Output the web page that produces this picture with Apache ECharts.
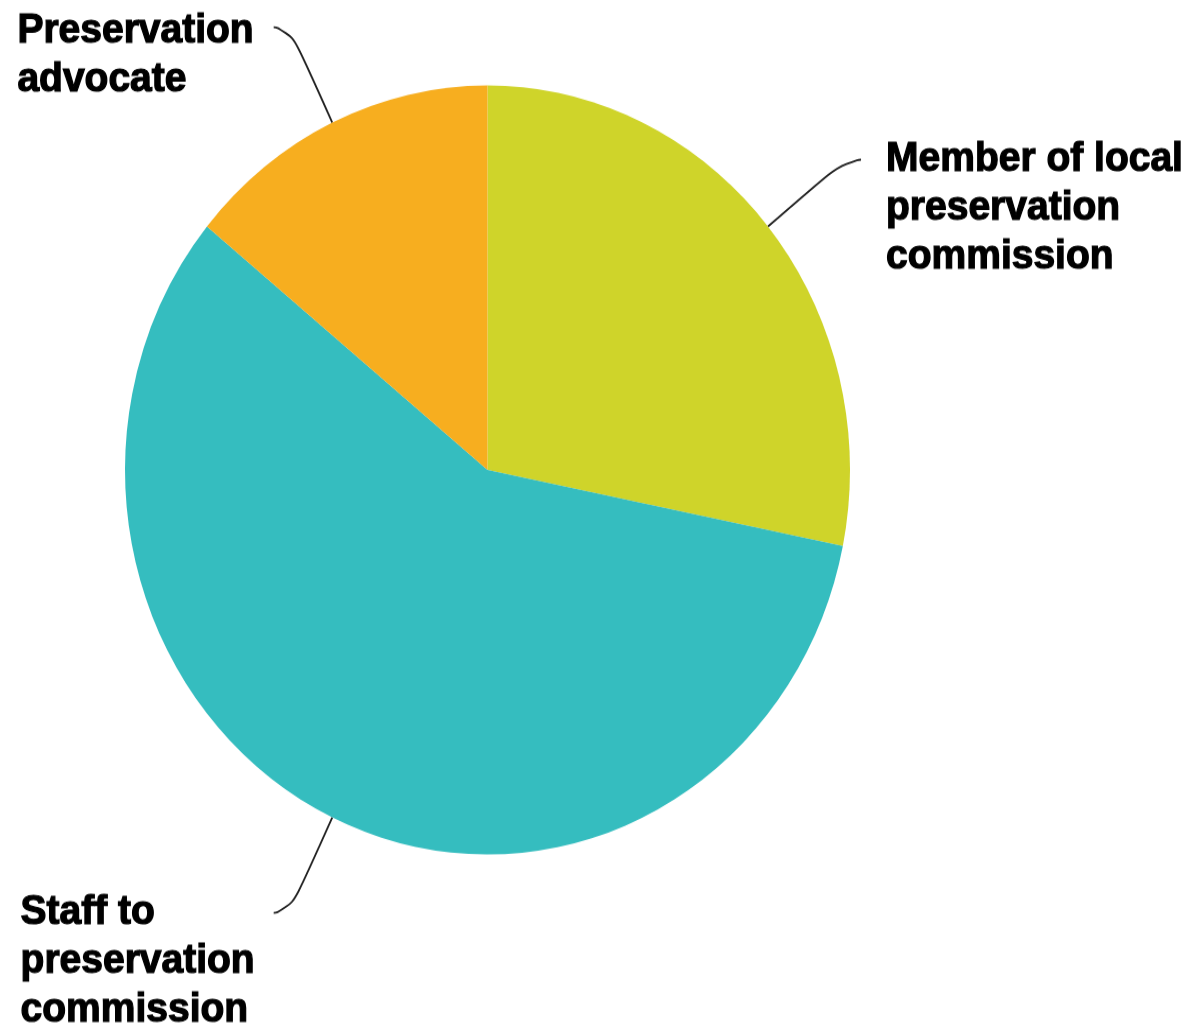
<!DOCTYPE html>
<html>
<head>
<meta charset="utf-8">
<script src="https://cdn.jsdelivr.net/npm/echarts@6/dist/echarts.min.js"></script>
<style>
  html, body { margin: 0; padding: 0; background: #fff; width: 1190px; height: 1027px; overflow: hidden; }
  /* the drawing is slightly taller than wide */
  #chart { width: 1190px; height: 968px; transform: scaleY(1.0607); transform-origin: 0 0; }
</style>
</head>
<body>
<div id="chart"></div>
<script>
// Role of respondents
const categories = [
  'Member of local preservation commission',
  'Staff to preservation commission',
  'Preservation advocate'
];
const labelLines = [
  ['Member of local', 'preservation', 'commission'],
  ['Staff to', 'preservation', 'commission'],
  ['Preservation', 'advocate']
];
const values = [20, 41, 10];
const colors = ['#CFD42A', '#35BDBF', '#F7AE1F'];

const LINE_H = 46;
// top padding per label: keeps the first text line level with the leader line end
const labelPadTop = [91, 91, 54];
const labelGap = [25, 19, 20];

const chart = echarts.init(document.getElementById('chart'), null, { renderer: 'canvas' });

const data = categories.map((name, i) => ({
  name: name,
  value: values[i],
  itemStyle: { color: colors[i] },
  label: {
    padding: [labelPadTop[i], 0, 0, 0],
    distanceToLabelLine: labelGap[i]
  }
}));

const textStyle = {
  fontFamily: 'Liberation Sans',
  fontWeight: 'bold',
  fontSize: 39,
  lineHeight: LINE_H,
  color: '#000',
  textBorderColor: '#000',
  textBorderWidth: 1.2
};

chart.setOption({
  backgroundColor: '#fff',
  animation: false,
  series: [{
    type: 'pie',
    center: [487.5, 443.1],
    radius: 362.5,
    startAngle: 90,
    clockwise: true,
    avoidLabelOverlap: false,
    silent: true,
    itemStyle: { borderWidth: 0 },
    label: Object.assign({
      show: true,
      position: 'outer',
      bleedMargin: 0,
      formatter: p => labelLines[p.dataIndex].map(s => '{t|' + s + '}').join('\n'),
      rich: {
        t: Object.assign({ align: 'left' }, textStyle)
      }
    }, textStyle),
    labelLine: {
      show: true,
      length: 99.5,
      length2: 16,
      smooth: 0.8,
      lineStyle: { color: '#222', width: 1.8 }
    },
    data: data
  }]
});
</script>
</body>
</html>
